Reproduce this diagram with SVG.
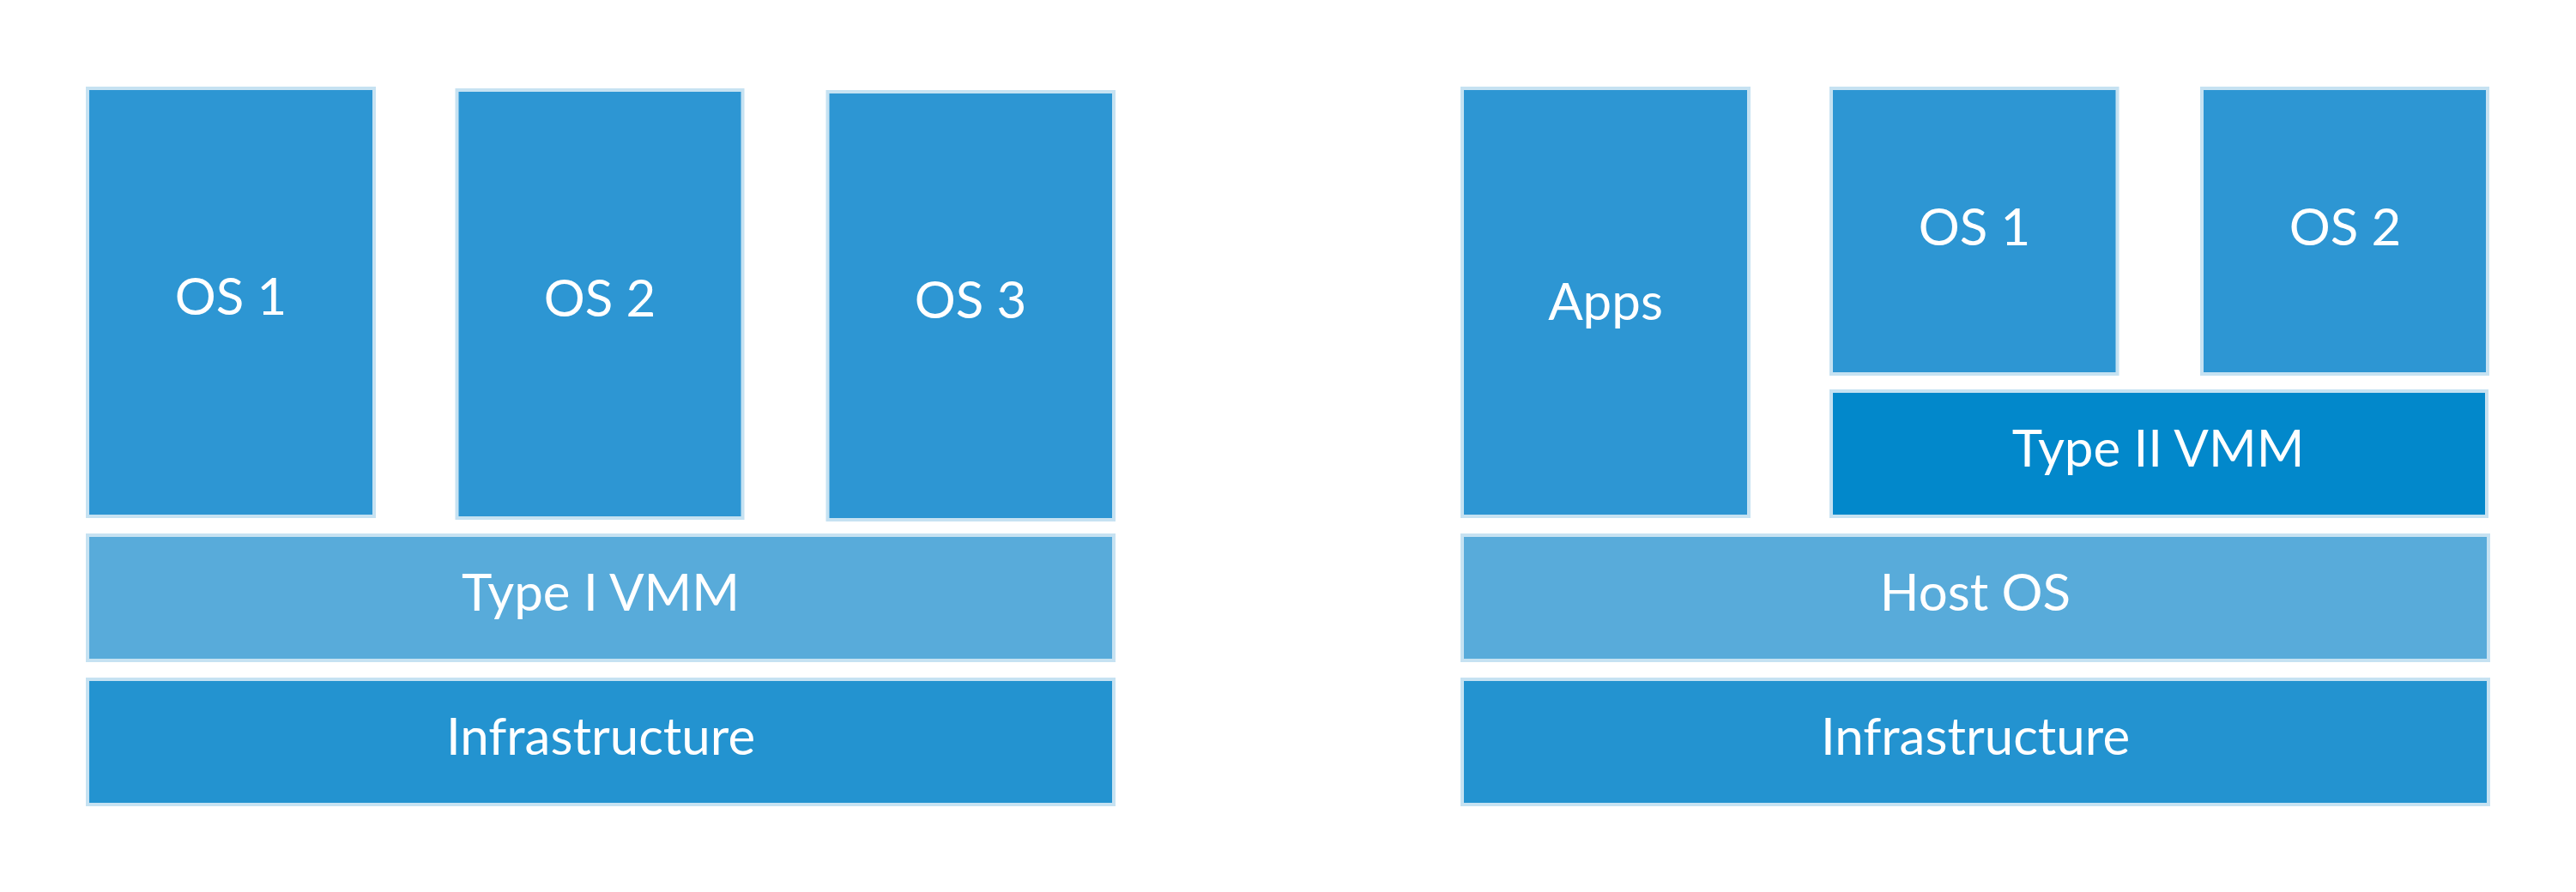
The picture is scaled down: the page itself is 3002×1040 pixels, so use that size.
<svg xmlns="http://www.w3.org/2000/svg" width="3002" height="1040" viewBox="0 0 3002 1040">
  <style>
    .box { stroke: #c6e2f2; stroke-width: 4; }
    .os { fill: #2d96d3; }
    .vmm1 { fill: #58abda; }
    .host { fill: #58abda; }
    .infra { fill: #2393d0; }
    .vmm2 { fill: #0288cb; }
    .lbl { fill: #ffffff; font-family: Lato, "Open Sans", "Liberation Sans", sans-serif; font-size: 60px; text-anchor: middle; }
  </style>
  <rect x="0" y="0" width="3002" height="1040" fill="#ffffff"/>
  <g id="connectors"/>
  <!-- Left: Type I -->
  <g id="left-os1">
    <rect class="box os" x="102" y="103" width="334" height="499"/>
    <text class="lbl" x="269" y="367">OS 1</text>
  </g>
  <g id="left-os2">
    <rect class="box os" x="532.5" y="105" width="333" height="499"/>
    <text class="lbl" x="699" y="369">OS 2</text>
  </g>
  <g id="left-os3">
    <rect class="box os" x="964.5" y="107" width="333.5" height="499"/>
    <text class="lbl" x="1131" y="371">OS 3</text>
  </g>
  <g id="type1-vmm">
    <rect class="box vmm1" x="102" y="624" width="1196" height="146"/>
    <text class="lbl" x="700" y="712">Type I VMM</text>
  </g>
  <g id="left-infra">
    <rect class="box infra" x="102" y="792" width="1196" height="146"/>
    <text class="lbl" x="700" y="880">Infrastructure</text>
  </g>
  <!-- Right: Type II -->
  <g id="apps">
    <rect class="box os" x="1704" y="103" width="334" height="499"/>
    <text class="lbl" x="1871" y="373">Apps</text>
  </g>
  <g id="right-os1">
    <rect class="box os" x="2134" y="103" width="333.5" height="333"/>
    <text class="lbl" x="2301" y="286">OS 1</text>
  </g>
  <g id="right-os2">
    <rect class="box os" x="2566" y="103" width="333" height="333"/>
    <text class="lbl" x="2733" y="286">OS 2</text>
  </g>
  <g id="type2-vmm">
    <rect class="box vmm2" x="2134" y="456" width="764" height="146"/>
    <text class="lbl" x="2515" y="544">Type II VMM</text>
  </g>
  <g id="host-os">
    <rect class="box host" x="1704" y="624" width="1196" height="146"/>
    <text class="lbl" x="2302" y="712">Host OS</text>
  </g>
  <g id="right-infra">
    <rect class="box infra" x="1704" y="792" width="1196" height="146"/>
    <text class="lbl" x="2302" y="880">Infrastructure</text>
  </g>
</svg>
